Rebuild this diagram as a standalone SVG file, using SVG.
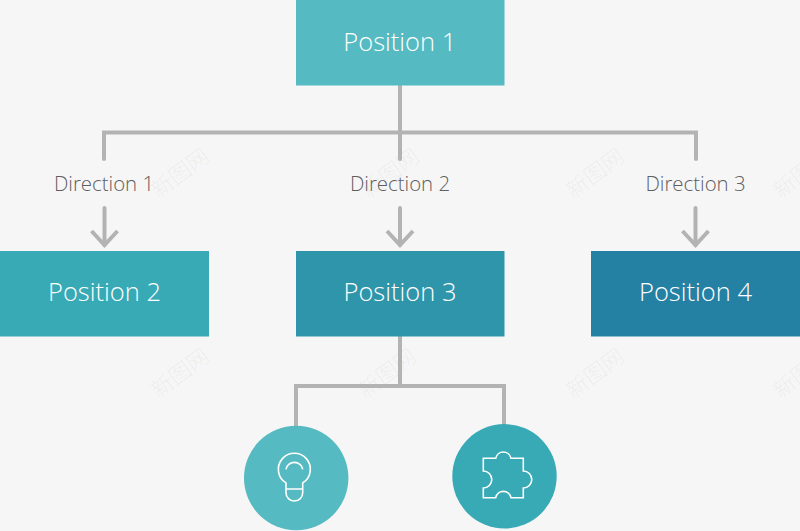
<svg xmlns="http://www.w3.org/2000/svg" width="800" height="531" viewBox="0 0 800 531">
<style>
.bg{fill:#f6f6f6}
.line{fill:none;stroke:#b3b3b3;stroke-width:4;stroke-linecap:round;stroke-linejoin:miter}
.arrow{fill:none;stroke:#b3b3b3;stroke-width:4}
.pos{font:300 25.500px "Open Sans","Noto Sans",sans-serif;fill:#fff;text-anchor:middle}
.dir{font:300 20.400px "Open Sans","Noto Sans",sans-serif;fill:#5f5f5f;text-anchor:middle}
.icon{fill:none;stroke:#fff;stroke-width:1.600}
.wm{font:22px "Noto Sans CJK SC",sans-serif;fill:#000;fill-opacity:.04;text-anchor:middle}
</style>
<rect class="bg" width="800" height="531"/>
<g id="watermarks">
<text class="wm" y="8" transform="translate(180 173) rotate(-37)">新图网</text>
<text class="wm" y="8" transform="translate(390 173) rotate(-37)">新图网</text>
<text class="wm" y="8" transform="translate(595 173) rotate(-37)">新图网</text>
<text class="wm" y="8" transform="translate(802 173) rotate(-37)">新图网</text>
<text class="wm" y="8" transform="translate(180 373) rotate(-37)">新图网</text>
<text class="wm" y="8" transform="translate(387 373) rotate(-37)">新图网</text>
<text class="wm" y="8" transform="translate(595 373) rotate(-37)">新图网</text>
<text class="wm" y="8" transform="translate(802 373) rotate(-37)">新图网</text>
</g>
<g id="connectors">
<path class="line" d="M400 85V159M104 159V132.500H696V159"/>
<path class="line" d="M104.500 208V245M400 208V245M695.500 208V245"/>
<path class="arrow" d="M91.500 231L104.500 245L117.500 231M387 231L400 245L413 231M682.500 231L695.500 245L708.500 231"/>
<path class="line" d="M400 336V386M296 430V386H504V426" style="stroke-linecap:butt"/>
</g>
<g id="position-1"><rect x="296" y="0" width="208.500" height="85.500" fill="#55bac1"/><text class="pos" x="399.800" y="50.500">Position 1</text></g>
<g id="position-2"><rect x="0" y="251" width="209" height="85.500" fill="#37aab6"/><text class="pos" x="104.500" y="301">Position 2</text></g>
<g id="position-3"><rect x="296" y="251" width="208.500" height="85.500" fill="#2f95aa"/><text class="pos" x="400" y="301">Position 3</text></g>
<g id="position-4"><rect x="591" y="251" width="209" height="85.500" fill="#2581a4"/><text class="pos" x="695.500" y="301">Position 4</text></g>
<g id="direction-1"><text class="dir" x="104" y="191">Direction 1</text></g>
<g id="direction-2"><text class="dir" x="400" y="191">Direction 2</text></g>
<g id="direction-3"><text class="dir" x="695.500" y="191">Direction 3</text></g>
<g id="bulb"><circle cx="296.200" cy="478" r="52.200" fill="#55bac1"/>
<path class="icon" d="M286 489V482.900A16 16 0 1 1 302.700 482.900V492.700A8.350 8.350 0 0 1 286 492.700ZM286 489H302.700M286 469.300A8.400 7.800 0 0 1 302.700 469.300"/>
</g>
<g id="puzzle"><circle cx="504.500" cy="476.300" r="52.200" fill="#37aab6"/>
<path class="icon" d="M483.300 458.300H495.700A7.800 7.800 0 0 1 511 458.300H523.300V471A8.500 8.500 0 0 1 523.300 488V497.700H511A7.800 7.800 0 0 0 495.700 497.700H483.300V488A8.500 8.500 0 0 0 483.300 471Z"/>
</g>
</svg>
